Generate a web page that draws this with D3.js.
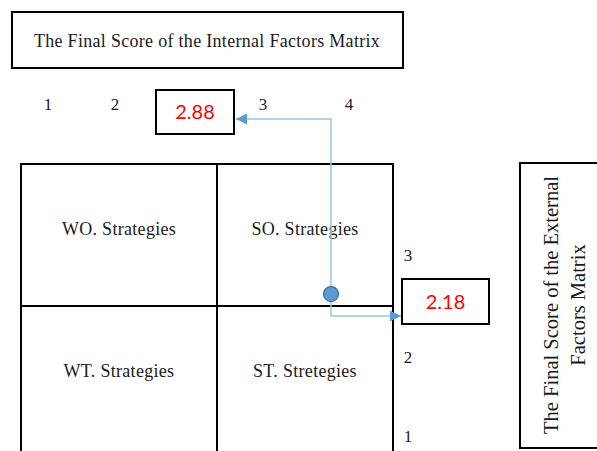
<!DOCTYPE html>
<html lang="en">
<head>
<meta charset="UTF-8" />
<title>Matrix</title>
<script src="https://d3js.org/d3.v7.min.js"></script>
<style>
  body { margin: 0; background: #fff; }
  text { font-family: "Liberation Serif", "Times New Roman", serif; fill: #1a1a1a; }
</style>
</head>
<body>
<svg id="svg" width="597" height="451"></svg>
<script>
// data
const internalTicks = [1, 2, 3, 4]
const externalTicks = [3, 2, 1]
const quadrants = ["WO. Strategies", "SO. Strategies", "WT. Strategies", "ST. Stretegies"]
const internalScore = 2.88
const externalScore = 2.18
const topTitle = "The Final Score of the Internal Factors Matrix"
const sideTitle = ["The Final Score of the External", "Factors Matrix"]

const svg = d3.select("#svg")
const blue = "#5B9BD5", lightBlue = "#9DC3E6"

// scales (the drawing is schematic, tick labels are not evenly spaced)
const tickX = d3.scaleLinear().domain([1, 2, 3, 4]).range([48, 115, 263, 349])
const tickY = d3.scaleLinear().domain([1, 2, 3]).range([436, 357, 255])
const cellX = d3.scaleLinear().domain([0, 1, 2]).range([21, 217, 393])
const cellY = d3.scaleLinear().domain([0, 1, 2]).range([164, 306, 462])
const ptX = d3.scaleLinear().domain([2.5, 4]).range([217, 667])
const ptY = d3.scaleLinear().domain([2.5, 1]).range([306, 353])

// title box
svg.append("rect").attr("x", 12).attr("y", 12).attr("width", 391).attr("height", 56)
  .attr("fill", "none").attr("stroke", "#000").attr("stroke-width", 2)
svg.append("text").attr("x", 207).attr("y", 47).attr("text-anchor", "middle")
  .style("font-size", "18px").style("letter-spacing", "0.3px").text(topTitle)

// tick labels
svg.selectAll(".tx").data(internalTicks).enter().append("text")
  .attr("x", d => tickX(d)).attr("y", 110).attr("text-anchor", "middle")
  .style("font-size", "17px").text(d => d)
svg.selectAll(".ty").data(externalTicks).enter().append("text")
  .attr("x", 408).attr("y", d => tickY(d) + 6).attr("text-anchor", "middle")
  .style("font-size", "17px").text(d => d)

// quadrants
const cells = quadrants.map((q, i) => ({ name: q, c: i % 2, r: Math.floor(i / 2) }))
svg.selectAll(".cell").data(cells).enter().append("rect")
  .attr("x", d => cellX(d.c)).attr("y", d => cellY(d.r))
  .attr("width", d => cellX(d.c + 1) - cellX(d.c))
  .attr("height", d => cellY(d.r + 1) - cellY(d.r))
  .attr("fill", "none").attr("stroke", "#000").attr("stroke-width", 2)
svg.selectAll(".cl").data(cells).enter().append("text")
  .attr("x", d => (cellX(d.c) + cellX(d.c + 1)) / 2)
  .attr("y", d => cellY(d.r) + 71)
  .attr("text-anchor", "middle")
  .style("font-size", "18px").style("letter-spacing", "0.3px").text(d => d.name)

// score boxes
const boxes = [
  { v: internalScore, x: 156, y: 90, w: 78, h: 44 },
  { v: externalScore, x: 402, y: 279, w: 87, h: 45 }
]
svg.selectAll(".sb").data(boxes).enter().append("rect")
  .attr("x", d => d.x).attr("y", d => d.y).attr("width", d => d.w).attr("height", d => d.h)
  .attr("fill", "#fff").attr("stroke", "#000").attr("stroke-width", 2)
svg.selectAll(".sv").data(boxes).enter().append("text")
  .attr("x", d => d.x + d.w / 2).attr("y", d => d.y + d.h / 2 + 7)
  .attr("text-anchor", "middle")
  .style("font-family", "Lato, 'Open Sans', sans-serif").style("font-size", "20px")
  .style("fill", "#ff0000").text(d => d.v.toFixed(2))

// side title box
svg.append("rect").attr("x", 520).attr("y", 163).attr("width", 100).attr("height", 285)
  .attr("fill", "none").attr("stroke", "#000").attr("stroke-width", 2)
const side = svg.append("text").attr("transform", "translate(552,305) rotate(-90)")
  .attr("text-anchor", "middle").style("font-size", "20.5px")
side.selectAll("tspan").data(sideTitle).enter().append("tspan")
  .attr("x", 0).attr("dy", (d, i) => i === 0 ? 6 : 27).text(d => d)

// arrows
svg.append("defs").append("marker").attr("id", "ah")
  .attr("viewBox", "0 0 10 10").attr("refX", 10).attr("refY", 5)
  .attr("markerWidth", 11).attr("markerHeight", 11).attr("markerUnits", "userSpaceOnUse")
  .attr("orient", "auto")
  .append("path").attr("d", "M0,0L10,5L0,10Z").attr("fill", blue)

const px = ptX(internalScore), py = ptY(externalScore)
const line = d3.line()
svg.append("path")
  .attr("d", line([[px, py], [px, 119], [236, 119]]))
  .attr("fill", "none").attr("stroke", lightBlue).attr("stroke-width", 1.5)
  .attr("marker-end", "url(#ah)")
svg.append("path")
  .attr("d", line([[px, py], [401, py]]))
  .attr("fill", "none").attr("stroke", lightBlue).attr("stroke-width", 1.5)
  .attr("marker-end", "url(#ah)")

// point
svg.append("circle").attr("cx", px).attr("cy", py - 22).attr("r", 7.5)
  .attr("fill", blue).attr("stroke", "#41719C").attr("stroke-width", 1.2)
</script>
</body>
</html>
